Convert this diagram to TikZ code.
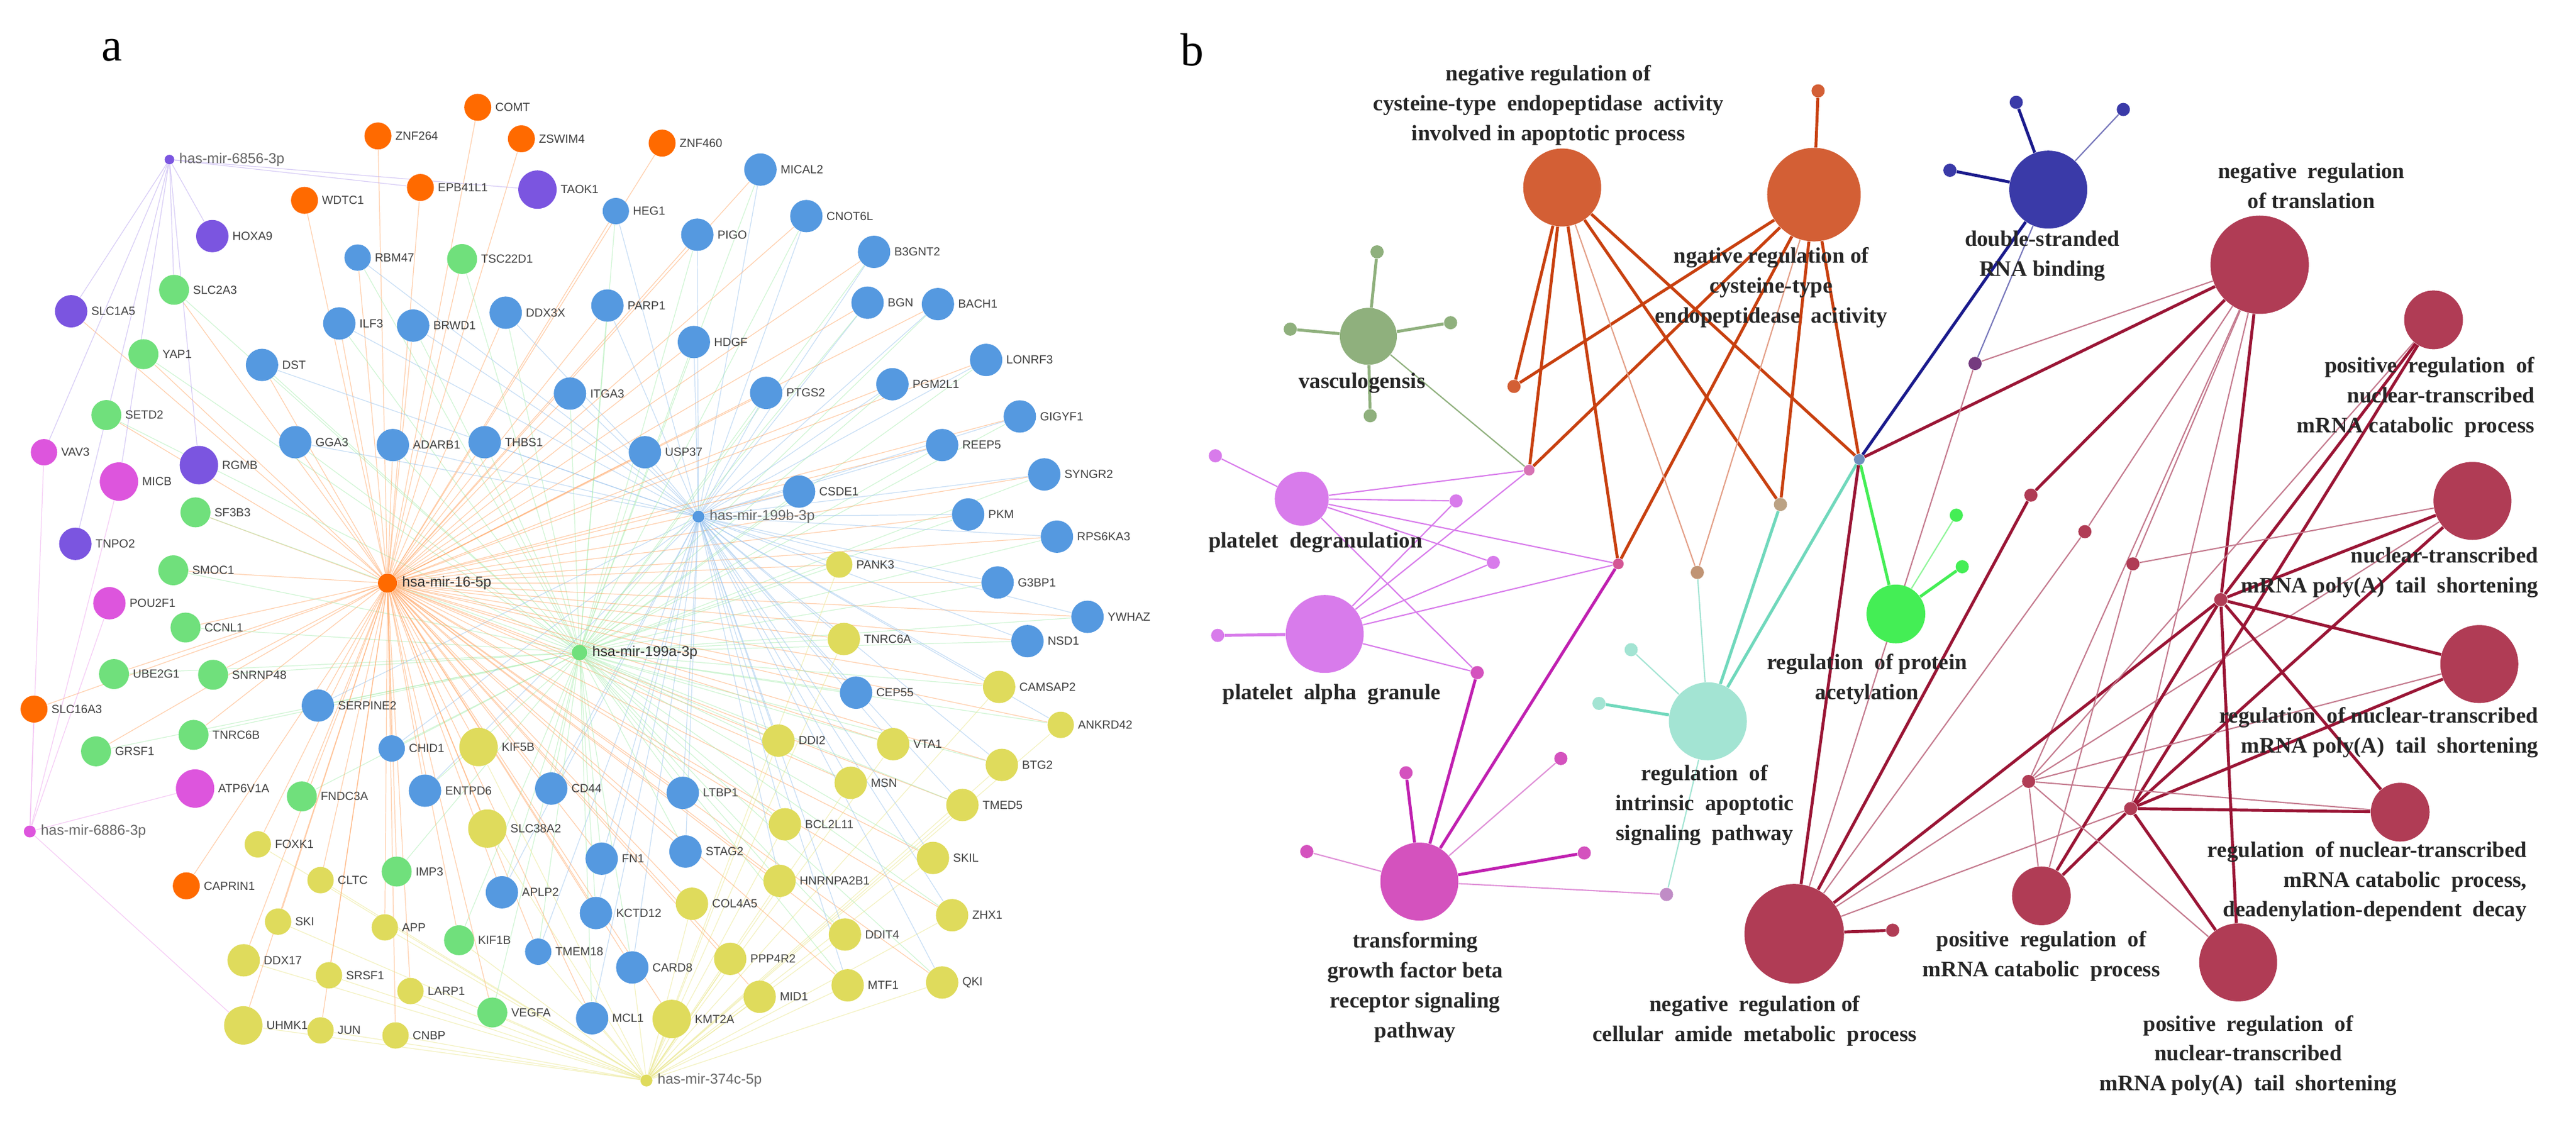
\documentclass[tikz,border=0pt]{standalone}
\usepackage{fontspec}
\setmainfont{Liberation Serif}
\newfontfamily\gsans{Liberation Sans}
\usetikzlibrary{backgrounds}
\definecolor{cO}{HTML}{FF6A00}
\definecolor{cBl}{HTML}{5599E0}
\definecolor{cGr}{HTML}{70E07C}
\definecolor{cYe}{HTML}{DFDB5C}
\definecolor{cPu}{HTML}{7B55E0}
\definecolor{cPk}{HTML}{DD55DD}
\definecolor{bOr}{HTML}{D35F35}
\definecolor{bOrE}{HTML}{C8400F}
\definecolor{bVa}{HTML}{8FB07D}
\definecolor{bPl}{HTML}{D87BEB}
\definecolor{bTg}{HTML}{D452BE}
\definecolor{bTgE}{HTML}{C020B0}
\definecolor{bTe}{HTML}{A3E4D3}
\definecolor{bTeE}{HTML}{70D8BC}
\definecolor{bDs}{HTML}{3A3AA8}
\definecolor{bDsE}{HTML}{1A1A8C}
\definecolor{bAc}{HTML}{44EE55}
\definecolor{bRd}{HTML}{B03C55}
\definecolor{bRdE}{HTML}{9A1535}
\definecolor{bRdL}{HTML}{C47A8E}
\tikzset{
  gn/.style={circle,inner sep=0pt,minimum size=5.4mm},
  o/.style={fill=cO,minimum size=4.5mm}, bl/.style={fill=cBl}, gr/.style={fill=cGr,minimum size=5mm},
  ye/.style={fill=cYe}, pu/.style={fill=cPu}, pk/.style={fill=cPk},
  big/.style={minimum size=6.4mm}, sml/.style={minimum size=4.4mm},
  glab/.style={anchor=west,inner sep=1.5pt,font=\gsans\fontsize{5.6}{6}\selectfont,text=black!75},
  hub/.style={circle,inner sep=0pt,minimum size=1.6mm},
  hlab/.style={anchor=west,inner sep=2pt,font=\gsans\fontsize{6.8}{7}\selectfont,text=black!60},
  eO/.style={draw=cO!60,opacity=.55,line width=.35pt},
  eB/.style={draw=cBl!60,opacity=.55,line width=.35pt},
  eG/.style={draw=cGr!60,opacity=.55,line width=.35pt},
  eY/.style={draw=cYe!70,opacity=.55,line width=.35pt},
  eP/.style={draw=cPu!50,opacity=.6,line width=.35pt},
  eK/.style={draw=cPk!50,opacity=.6,line width=.35pt},
  term/.style={circle,inner sep=0pt},
  dot/.style={circle,inner sep=0pt,minimum size=2.2mm},
  blab/.style={align=center,font=\bfseries\fontsize{10.5}{14.2}\selectfont,text=black!85},
  thick/.style={line width=1.4pt}, thin/.style={line width=.6pt}
}
\newcommand{\gene}[4]{\node[gn,#4] (#1) at (#2,#3) {}; \node[glab] at (#1.east) {#1};}
\def\orangeG{ZNF264,COMT,ZSWIM4,EPB41L1,WDTC1,SLC16A3,CAPRIN1,ZNF460,SLC1A5}
\def\greenG{TSC22D1,SLC2A3,YAP1,SETD2,SF3B3,SMOC1,CCNL1,UBE2G1,SNRNP48,GRSF1,TNRC6B,FNDC3A,IMP3,KIF1B,VEGFA}
\def\blueG{RBM47,ILF3,BRWD1,DDX3X,DST,GGA3,ADARB1,THBS1,ITGA3,SERPINE2,CHID1,ENTPD6,CD44,APLP2,TMEM18,MICAL2,HEG1,CNOT6L,PIGO,B3GNT2,PARP1,BGN,BACH1,HDGF,LONRF3,PTGS2,PGM2L1,GIGYF1,USP37,REEP5,SYNGR2,CSDE1,PKM,RPS6KA3,G3BP1,YWHAZ,NSD1,CEP55,LTBP1,FN1,STAG2,KCTD12,CARD8,MCL1}
\def\yellowG{KIF5B,FOXK1,SLC38A2,CLTC,SKI,APP,DDX17,SRSF1,LARP1,UHMK1,JUN,CNBP,PANK3,TNRC6A,CAMSAP2,ANKRD42,DDI2,VTA1,BTG2,MSN,TMED5,BCL2L11,SKIL,HNRNPA2B1,COL4A5,ZHX1,DDIT4,PPP4R2,MTF1,QKI,MID1,KMT2A}
\def\yellowR{PANK3,TNRC6A,CAMSAP2,ANKRD42,DDI2,VTA1,BTG2,MSN,TMED5,BCL2L11,SKIL,HNRNPA2B1,ZHX1,DDIT4,MTF1,QKI}
\begin{document}
\begin{tikzpicture}
\useasboundingbox (0,0) rectangle (42.95,-18.71);
% panel a, left half
\begin{scope}[x=0.006378cm,y=-0.011933cm]
\node[font=\fontsize{22}{22}\selectfont] (la) at (293,70) {a};
\node[hub,fill=cPu] (m6856) at (443,223) {}; \node[hlab] at (m6856.east) {has-mir-6856-3p};
\node[hub,fill=cO,minimum size=3.2mm] (m16) at (1013,815) {}; \node[hlab,text=black!80] at (m16.east) {hsa-mir-16-5p};
\node[hub,fill=cPk,minimum size=2mm] (m6886) at (78,1162) {}; \node[hlab] at (m6886.east) {has-mir-6886-3p};
\node[hub,fill=cGr,minimum size=2.6mm] (m199a) at (1515,912) {}; \node[hlab,text=black!80] at (m199a.east) {hsa-mir-199a-3p};
\gene{ZNF264}{988}{190}{o}
\gene{COMT}{1249}{150}{o}
\gene{ZSWIM4}{1363}{194}{o}
\gene{EPB41L1}{1099}{262}{o}
\gene{TAOK1}{1405}{265}{pu,big}
\gene{WDTC1}{796}{280}{o}
\gene{HOXA9}{555}{330}{pu}
\gene{RBM47}{935}{360}{bl,sml}
\gene{TSC22D1}{1208}{362}{gr}
\gene{SLC2A3}{455}{405}{gr}
\gene{SLC1A5}{186}{435}{pu}
\gene{ILF3}{887}{452}{bl}
\gene{BRWD1}{1080}{455}{bl}
\gene{DDX3X}{1322}{437}{bl}
\gene{YAP1}{375}{495}{gr}
\gene{DST}{685}{510}{bl}
\gene{ITGA3}{1490}{550}{bl}
\gene{SETD2}{278}{580}{gr}
\gene{GGA3}{772}{618}{bl}
\gene{ADARB1}{1027}{622}{bl}
\gene{THBS1}{1267}{618}{bl}
\gene{VAV3}{115}{632}{pk,sml}
\gene{MICB}{311}{673}{pk,big}
\gene{RGMB}{520}{650}{pu,big}
\gene{SF3B3}{511}{716}{gr}
\gene{TNPO2}{197}{760}{pu}
\gene{SMOC1}{453}{797}{gr}
\gene{POU2F1}{286}{843}{pk}
\gene{CCNL1}{485}{877}{gr}
\gene{UBE2G1}{298}{942}{gr}
\gene{SNRNP48}{557}{943}{gr}
\gene{SLC16A3}{89}{991}{o}
\gene{SERPINE2}{831}{986}{bl}
\gene{GRSF1}{251}{1050}{gr}
\gene{TNRC6B}{506}{1027}{gr}
\gene{CHID1}{1024}{1046}{bl,sml}
\gene{KIF5B}{1251}{1044}{ye,big}
\gene{ATP6V1A}{510}{1102}{pk,big}
\gene{FNDC3A}{789}{1113}{gr}
\gene{ENTPD6}{1111}{1105}{bl}
\gene{CD44}{1441}{1102}{bl}
\gene{FOXK1}{674}{1180}{ye,sml}
\gene{SLC38A2}{1274}{1158}{ye,big}
\gene{CAPRIN1}{487}{1238}{o}
\gene{CLTC}{838}{1230}{ye,sml}
\gene{IMP3}{1037}{1218}{gr}
\gene{APLP2}{1312}{1247}{bl}
\gene{SKI}{727}{1288}{ye,sml}
\gene{APP}{1006}{1296}{ye,sml}
\gene{KIF1B}{1200}{1314}{gr}
\gene{TMEM18}{1407}{1330}{bl,sml}
\gene{DDX17}{637}{1342}{ye}
\gene{SRSF1}{860}{1363}{ye,sml}
\gene{LARP1}{1073}{1385}{ye,sml}
\gene{VEGFA}{1287}{1415}{gr}
\gene{UHMK1}{636}{1433}{ye,big}
\gene{JUN}{838}{1440}{ye,sml}
\gene{CNBP}{1034}{1447}{ye,sml}
\end{scope}
% panel a, right half
\begin{scope}[shift={(10cm,0)},x=0.006378cm,y=-0.011933cm]
\node[hub,fill=cBl,minimum size=2mm] (m199b) at (258,722) {}; \node[hlab] at (m199b.east) {has-mir-199b-3p};
\node[hub,fill=cYe,minimum size=2mm] (m374) at (122,1510) {}; \node[hlab] at (m374.east) {has-mir-374c-5p};
\gene{ZNF460}{163}{200}{o}
\gene{MICAL2}{420}{237}{bl}
\gene{HEG1}{42}{295}{bl,sml}
\gene{CNOT6L}{540}{302}{bl}
\gene{PIGO}{255}{328}{bl}
\gene{B3GNT2}{717}{352}{bl}
\gene{PARP1}{20}{427}{bl}
\gene{BGN}{700}{423}{bl}
\gene{BACH1}{884}{425}{bl}
\gene{HDGF}{246}{478}{bl}
\gene{LONRF3}{1010}{503}{bl}
\gene{PTGS2}{435}{549}{bl}
\gene{PGM2L1}{765}{537}{bl}
\gene{GIGYF1}{1098}{582}{bl}
\gene{USP37}{118}{632}{bl}
\gene{REEP5}{895}{622}{bl}
\gene{SYNGR2}{1162}{663}{bl}
\gene{CSDE1}{521}{687}{bl}
\gene{PKM}{963}{719}{bl}
\gene{RPS6KA3}{1195}{750}{bl}
\gene{PANK3}{626}{789}{ye,sml}
\gene{G3BP1}{1040}{814}{bl}
\gene{YWHAZ}{1275}{862}{bl}
\gene{TNRC6A}{638}{893}{ye}
\gene{NSD1}{1118}{896}{bl}
\gene{CEP55}{670}{968}{bl}
\gene{CAMSAP2}{1044}{960}{ye}
\gene{ANKRD42}{1205}{1013}{ye,sml}
\gene{DDI2}{467}{1035}{ye}
\gene{VTA1}{767}{1040}{ye}
\gene{BTG2}{1051}{1069}{ye}
\gene{MSN}{656}{1094}{ye}
\gene{LTBP1}{217}{1108}{bl}
\gene{TMED5}{948}{1125}{ye}
\gene{BCL2L11}{484}{1152}{ye}
\gene{FN1}{5}{1200}{bl}
\gene{STAG2}{224}{1190}{bl}
\gene{SKIL}{871}{1199}{ye}
\gene{HNRNPA2B1}{470}{1231}{ye}
\gene{COL4A5}{241}{1263}{ye}
\gene{KCTD12}{-10}{1276}{bl}
\gene{ZHX1}{921}{1279}{ye}
\gene{DDIT4}{641}{1306}{ye}
\gene{PPP4R2}{341}{1340}{ye}
\gene{CARD8}{85}{1352}{bl}
\gene{MTF1}{648}{1377}{ye}
\gene{QKI}{895}{1373}{ye}
\gene{MID1}{418}{1393}{ye}
\gene{MCL1}{-20}{1423}{bl}
\gene{KMT2A}{188}{1424}{ye,big}
\end{scope}
% panel a connectors
\begin{scope}[on background layer]
\foreach \n in \orangeG {\draw[eO] (m16) -- (\n);}
\foreach \n in \greenG {\draw[eO] (m16) -- (\n); \draw[eG] (m199a) -- (\n);}
\foreach \n in \blueG {\draw[eO] (m16) -- (\n); \draw[eB] (m199b) -- (\n); \draw[eG] (m199a) -- (\n);}
\foreach \n in \yellowG {\draw[eO] (m16) -- (\n); \draw[eY] (m374) -- (\n);}
\foreach \n in \yellowR {\draw[eB] (m199b) -- (\n); \draw[eG] (m199a) -- (\n);}
\foreach \n in {MCL1,CARD8,VEGFA,KIF1B,TMEM18} {\draw[eY] (m374) -- (\n);}
\foreach \n in {TAOK1,HOXA9,SLC1A5,RGMB,TNPO2,SLC2A3,VAV3,MICB,EPB41L1} {\draw[eP] (m6856) -- (\n);}
\foreach \n in {VAV3,MICB,POU2F1,ATP6V1A,SLC16A3,UHMK1} {\draw[eK] (m6886) -- (\n);}
\end{scope}
% panel b, left part
\begin{scope}[shift={(19cm,0)},x=0.007653cm,y=-0.011933cm]
\node[font=\fontsize{22}{22}\selectfont] (lb) at (115,70) {b};
\node[term,fill=bOr,minimum size=13mm] (nA) at (920,262) {};
\node[term,fill=bOr,minimum size=15.6mm] (nB) at (1468,272) {};
\node[dot,fill=bOr] (tB) at (1477,127) {};
\node[term,fill=bVa,minimum size=9.5mm] (vas) at (498,470) {};
\foreach \i/\p in {1/{(517,352)},2/{(328,460)},3/{(677,451)},4/{(502,581)}} \node[dot,fill=bVa] (v\i) at \p {};
\node[dot,fill=bOr] (o1) at (815,540) {};
\node[dot,fill=bPl!70!bOr,minimum size=1.8mm] (h1) at (848,657) {};
\node[term,fill=bPl,minimum size=9mm] (pd) at (353,697) {};
\node[dot,fill=bPl] (pd1) at (165,637) {};
\node[dot,fill=bPl] (q1) at (689,700) {};
\node[dot,fill=bPl] (q2) at (770,786) {};
\node[dot,fill=bTg!70!bOr,minimum size=1.8mm] (h2) at (1042,788) {};
\node[term,fill=bPl,minimum size=13mm] (pa) at (403,886) {};
\node[dot,fill=bPl] (pa1) at (170,888) {};
\node[dot,fill=bTg] (q3) at (735,940) {};
\node[dot,fill=bOr!60!bTe] (t1) at (1214,800) {};
\node[dot,fill=bOr!50!bTe] (t2) at (1395,705) {};
\node[term,fill=bTe,minimum size=13mm] (ria) at (1237,1008) {};
\node[dot,fill=bTe] (ri1) at (1070,908) {};
\node[dot,fill=bTe] (ri2) at (1000,983) {};
\node[term,fill=bTg,minimum size=13mm] (tgf) at (609,1232) {};
\foreach \i/\p in {1/{(580,1080)},2/{(917,1060)},3/{(364,1190)},4/{(968,1192)}} \node[dot,fill=bTg] (g\i) at \p {};
\node[dot,fill=bTg!60!bTe] (g5) at (1147,1250) {};
\node[term,fill=bRd,minimum size=16.6mm] (amide) at (1425,1305) {};
\node[blab] (lA) at (890,147) {negative regulation of\\cysteine-type\enspace endopeptidase\enspace activity\\involved in apoptotic process};
\node[blab] (lB) at (1375,402) {ngative regulation of\\cysteine-type\\endopeptidease\enspace acitivity};
\node[blab] (lvas) at (484,535) {vasculogensis};
\node[blab] (lpd) at (383,758) {platelet\enspace degranulation};
\node[blab] (lpa) at (418,970) {platelet\enspace alpha\enspace granule};
\node[blab] (lri) at (1230,1125) {regulation\enspace of\\intrinsic\enspace apoptotic\\signaling\enspace pathway};
\node[blab] (ltgf) at (600,1380) {transforming\\growth factor beta\\receptor signaling\\pathway};
\node[blab] (lam) at (1339,1427) {negative\enspace regulation of\\cellular\enspace amide\enspace metabolic\enspace process};
\end{scope}
% panel b, right part
\begin{scope}[shift={(31cm,0)},x=0.007622cm,y=-0.011933cm]
\node[dot,fill=bDs!50!bTe,minimum size=1.8mm] (h3) at (0,642) {};
\node[term,fill=bDs,minimum size=13mm] (ds) at (413,265) {};
\foreach \i/\p in {1/{(343,143)},2/{(577,153)},3/{(198,238)}} \node[dot,fill=bDs] (d\i) at \p {};
\node[dot,fill=bRd!50!bDs] (rb) at (253,508) {};
\node[term,fill=bAc,minimum size=9.8mm] (acet) at (80,858) {};
\node[dot,fill=bAc] (ac1) at (212,720) {};
\node[dot,fill=bAc] (ac2) at (225,792) {};
\node[term,fill=bRd,minimum size=16.4mm] (tr) at (875,370) {};
\node[term,fill=bRd,minimum size=9.8mm] (pnc) at (1255,447) {};
\node[term,fill=bRd,minimum size=13mm] (pol) at (1340,700) {};
\node[term,fill=bRd,minimum size=13mm] (rpol) at (1355,928) {};
\node[term,fill=bRd,minimum size=9.8mm] (dead) at (1182,1135) {};
\node[term,fill=bRd,minimum size=9.8mm] (pcat) at (398,1252) {};
\node[term,fill=bRd,minimum size=13mm] (ppol) at (828,1345) {};
\foreach \i/\p in {1/{(375,692)},2/{(493,743)},3/{(598,788)},4/{(370,1092)},5/{(593,1130)},6/{(790,838)},7/{(73,1300)}} \node[dot,fill=bRd] (r\i) at \p {};
\node[blab] (lds) at (400,358) {double-stranded\\RNA binding};
\node[blab] (ltr) at (988,260) {negative\enspace regulation\\of translation};
\node[blab,align=right,anchor=east] (lpnc) at (1492,555) {positive\enspace regulation\enspace of\\nuclear-transcribed\\mRNA catabolic\enspace process};
\node[blab,align=right,anchor=east] (lpol) at (1500,800) {nuclear-transcribed\\mRNA poly(A)\enspace tail\enspace shortening};
\node[blab,align=right,anchor=east] (lrpol) at (1500,1024) {regulation\enspace of nuclear-transcribed\\mRNA poly(A)\enspace tail\enspace shortening};
\node[blab,align=right,anchor=east] (ldead) at (1475,1232) {regulation\enspace of nuclear-transcribed\\mRNA catabolic\enspace process,\\deadenylation-dependent\enspace decay};
\node[blab] (lpcat) at (398,1336) {positive\enspace regulation\enspace of\\mRNA catabolic\enspace process};
\node[blab] (lppol) at (850,1475) {positive\enspace regulation\enspace of\\nuclear-transcribed\\mRNA poly(A)\enspace tail\enspace shortening};
\node[blab] (lacet) at (17,949) {regulation\enspace of protein\\acetylation};
\end{scope}
% panel b connectors
\begin{scope}[on background layer]
\foreach \n in {o1,h1,h2,t2,h3} {\draw[bOrE,thick] (nA) -- (\n); \draw[bOrE,thick] (nB) -- (\n);}
\draw[bOrE!50,thin] (nA) -- (t1); \draw[bOrE!50,thin] (nB) -- (t1);
\draw[bOrE,thick] (nB) -- (tB);
\foreach \n in {v1,v2,v3,v4} \draw[bVa,thick] (vas) -- (\n);
\draw[bVa,thin] (vas) -- (h1);
\foreach \n in {pd1,h1,q1,q2,h2,q3} \draw[bPl,thin] (pd) -- (\n);
\foreach \n in {q1,q2,h1,h2,q3} \draw[bPl,thin] (pa) -- (\n);
\draw[bPl,thick] (pa) -- (pa1);
\foreach \n in {q3,h2,g1,g4} \draw[bTgE,thick] (tgf) -- (\n);
\foreach \n in {g2,g3,g5} \draw[bTgE!50,thin] (tgf) -- (\n);
\foreach \n in {ri1,t1,g5} \draw[bTe,thin] (ria) -- (\n);
\foreach \n in {ri2,t2,h3} \draw[bTeE,thick] (ria) -- (\n);
\foreach \n in {d1,d3,h3} \draw[bDsE,thick] (ds) -- (\n);
\foreach \n in {d2,rb} \draw[bDsE!60,thin] (ds) -- (\n);
\foreach \n in {h3,ac2} \draw[bAc,thick] (acet) -- (\n);
\draw[bAc!60,thin] (acet) -- (ac1);
\foreach \n in {h3,r1,r6} \draw[bRdE,thick] (tr) -- (\n);
\foreach \n in {rb,r2,r3,r4,r5} \draw[bRdL,thin] (tr) -- (\n);
\foreach \n in {h3,r1,r6,r7} \draw[bRdE,thick] (amide) -- (\n);
\foreach \n in {rb,r2,r4,r5} \draw[bRdL,thin] (amide) -- (\n);
\foreach \t in {pnc,pol,rpol,dead,pcat,ppol} {\draw[bRdE,thick] (\t) -- (r6); \draw[bRdE,thick] (\t) -- (r5); \draw[bRdL,thin] (\t) -- (r4);}
\draw[bRdL,thin] (pol) -- (r3); \draw[bRdL,thin] (pcat) -- (r3);
\end{scope}
\end{tikzpicture}
\end{document}
